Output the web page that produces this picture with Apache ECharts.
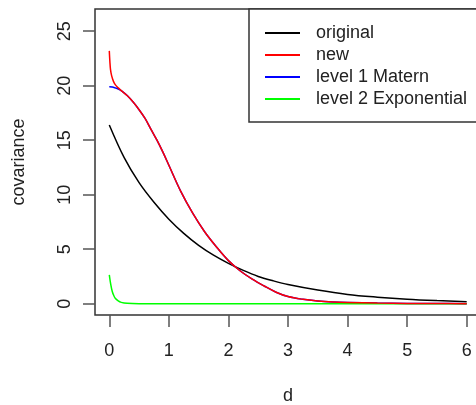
<!DOCTYPE html>
<html>
<head>
<meta charset="utf-8">
<script src="https://cdn.jsdelivr.net/npm/echarts@6/dist/echarts.min.js"></script>
<style>html,body{margin:0;padding:0;background:#fff;}#c{width:476px;height:405px;}</style>
</head>
<body>
<div id="c"></div>
<script>
// ---- data ----
const seriesNames = ['original', 'new', 'level 1 Matern', 'level 2 Exponential'];
const xTicks = [0, 1, 2, 3, 4, 5, 6];
const yTicks = [0, 5, 10, 15, 20, 25];

const dOriginal   = [0, 0.25, 0.5, 0.75, 1.0, 1.25, 1.5, 1.75, 2.0, 2.25, 2.5, 2.75, 3.0, 3.5, 4.0, 4.5, 5.0, 5.5, 6.0];
const covOriginal = [16.4, 13.4, 11.1, 9.3, 7.75, 6.45, 5.35, 4.45, 3.7, 3.05, 2.5, 2.1, 1.76, 1.25, 0.85, 0.6, 0.41, 0.28, 0.18];

const dNew   = [0, 0.01, 0.02, 0.04, 0.07, 0.1, 0.15, 0.2, 0.3, 0.4, 0.5, 0.6, 0.7, 0.8, 0.9, 1.0, 1.2, 1.4, 1.6, 1.8, 2.0, 2.2, 2.4, 2.6, 2.8, 3.0, 3.25, 3.5, 3.75, 4.0, 4.5, 5.0, 5.5, 6.0];
const covNew = [23.2, 22.2, 21.5, 20.9, 20.4, 20.1, 19.8, 19.55, 19.1, 18.5, 17.8, 17.0, 16.0, 15.0, 13.9, 12.7, 10.3, 8.3, 6.6, 5.2, 3.95, 3.0, 2.25, 1.62, 1.05, 0.65, 0.4, 0.25, 0.16, 0.11, 0.05, 0.02, 0.01, 0.0];

const dMatern   = [0, 0.05, 0.1, 0.15, 0.2, 0.3, 0.4, 0.5, 0.6, 0.7, 0.8, 0.9, 1.0, 1.2, 1.4, 1.6, 1.8, 2.0, 2.2, 2.4, 2.6, 2.8, 3.0, 3.25, 3.5, 3.75, 4.0, 4.5, 5.0, 5.5, 6.0];
const covMatern = [19.9, 19.88, 19.8, 19.7, 19.55, 19.1, 18.5, 17.8, 17.0, 16.0, 15.0, 13.9, 12.7, 10.3, 8.3, 6.6, 5.2, 3.95, 3.0, 2.25, 1.62, 1.05, 0.65, 0.4, 0.25, 0.16, 0.11, 0.05, 0.02, 0.01, 0.0];

const dExp   = [0, 0.025, 0.05, 0.075, 0.1, 0.15, 0.2, 0.3, 0.5, 1, 2, 3, 4, 5, 6];
const covExp = [2.65, 1.75, 1.12, 0.75, 0.5, 0.25, 0.12, 0.03, 0.0, 0, 0, 0, 0, 0, 0];

const colors = ['#000000', '#ff0000', '#0000ff', '#00ff00'];

function pairs(xs, ys) { return xs.map((x, i) => [x, ys[i]]); }

const FONT = '"Liberation Sans", Arial, Helvetica, sans-serif';
const chart = echarts.init(document.getElementById('c'), null, { renderer: 'canvas' });

function line(name, xs, ys, color) {
  return {
    name: name, type: 'line', data: pairs(xs, ys),
    showSymbol: false, symbol: 'none', smooth: 0.35,
    lineStyle: { color: color, width: 1.5 }, itemStyle: { color: color },
    animation: false, clip: true
  };
}

chart.setOption({
  animation: false,
  grid: { left: 95, top: 9, width: 386, height: 306, show: true, containLabel: false, outerBoundsMode: 'none',
          borderColor: '#333', borderWidth: 1.5, backgroundColor: 'transparent' },
  xAxis: {
    type: 'value', min: -0.24, max: 6.24,
    name: 'd', nameLocation: 'middle', nameGap: 72,
    nameTextStyle: { fontFamily: FONT, fontSize: 18, color: '#222' },
    axisLine: { show: false, onZero: false },
    splitLine: { show: false },
    axisTick: { show: true, length: 12, inside: false, customValues: xTicks, lineStyle: { color: '#555', width: 1.5 } },
    axisLabel: { customValues: xTicks, margin: 27, fontFamily: FONT, fontSize: 18, color: '#222' }
  },
  yAxis: {
    type: 'value', min: -1.04, max: 27.04,
    name: 'covariance', nameLocation: 'middle', nameGap: 67, nameRotate: 90,
    nameTextStyle: { fontFamily: FONT, fontSize: 18, color: '#222' },
    axisLine: { show: false, onZero: false },
    splitLine: { show: false },
    axisTick: { show: true, length: 12, inside: false, customValues: yTicks, lineStyle: { color: '#555', width: 1.5 } },
    axisLabel: { customValues: yTicks, rotate: 90, margin: 21, fontFamily: FONT, fontSize: 18, color: '#222' }
  },
  legend: {
    orient: 'vertical', left: 249, top: 9,
    data: seriesNames,
    icon: 'rect',
    padding: [15, 20, 14, 16],
    itemWidth: 35, itemHeight: 2, itemGap: 4,
    borderColor: '#333', borderWidth: 1.5, backgroundColor: '#fff',
    textStyle: { fontFamily: FONT, fontSize: 18, color: '#222', padding: [0, 0, 0, 11] },
    selectedMode: false
  },
  series: [
    line(seriesNames[0], dOriginal, covOriginal, colors[0]),
    line(seriesNames[2], dMatern, covMatern, colors[2]),
    line(seriesNames[3], dExp, covExp, colors[3]),
    line(seriesNames[1], dNew, covNew, colors[1])
  ]
});
</script>
</body>
</html>
